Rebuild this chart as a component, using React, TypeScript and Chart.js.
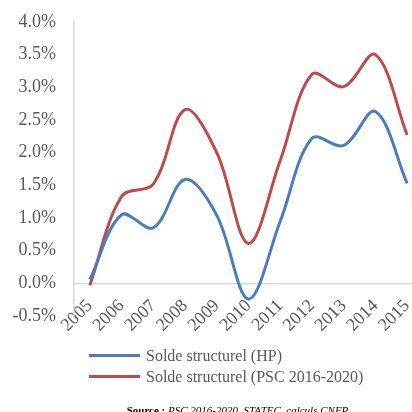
import React, { useEffect, useRef } from "react";
import { Chart, registerables } from "chart.js";

Chart.register(...registerables);

const years = ["2005", "2006", "2007", "2008", "2009", "2010", "2011", "2012", "2013", "2014", "2015"];
const soldeHP = [0.06, 1.05, 0.85, 1.59, 1.04, -0.24, 0.95, 2.22, 2.11, 2.63, 1.53];
const soldePSC = [-0.03, 1.33, 1.52, 2.66, 2.0, 0.61, 1.88, 3.2, 3.01, 3.5, 2.27];
const seriesNames = ["Solde structurel (HP)", "Solde structurel (PSC 2016-2020)"];
const sourceBold = "Source :";
const sourceItalic = "PSC 2016-2020, STATEC, calculs CNFP";

const BLUE = "#4a7ebb";
const RED = "#be4b48";
const SERIF = "'Liberation Serif', 'Times New Roman', serif";

export default function App() {
  const ref = useRef<HTMLCanvasElement | null>(null);

  useEffect(() => {
    if (!ref.current) return;
    const chart = new Chart(ref.current, {
      type: "line",
      data: {
        labels: years,
        datasets: [
          {
            label: seriesNames[0],
            data: soldeHP,
            borderColor: BLUE,
            backgroundColor: BLUE,
            borderWidth: 3,
            pointRadius: 0,
            tension: 0.35,
            fill: false,
          },
          {
            label: seriesNames[1],
            data: soldePSC,
            borderColor: RED,
            backgroundColor: RED,
            borderWidth: 3,
            pointRadius: 0,
            tension: 0.35,
            fill: false,
          },
        ],
      },
      options: {
        responsive: false,
        animation: false,
        layout: { padding: { top: 22, bottom: 96, left: 0, right: 0 } },
        plugins: { legend: { display: false }, tooltip: { enabled: false } },
        scales: {
          x: {
            type: "category",
            offset: true,
            position: { y: 0 } as any,
            grid: { display: false, drawTicks: false },
            border: { display: true, color: "#d9d9d9", width: 1.5 },
            ticks: {
              autoSkip: false,
              minRotation: 45,
              maxRotation: 45,
              padding: 12,
              color: "#595959",
              font: { family: SERIF, size: 18 },
            },
            afterFit: (s: any) => {
              s.paddingLeft = 0;
              s.paddingRight = 0;
            },
          },
          y: {
            min: -0.5,
            max: 4,
            grid: { display: false, drawTicks: false },
            border: { display: true, color: "#d9d9d9", width: 1.5 },
            ticks: {
              stepSize: 0.5,
              padding: 18,
              color: "#595959",
              font: { family: SERIF, size: 18 },
              callback: (v: any) => Number(v).toFixed(1) + "%",
            },
            afterFit: (s: any) => {
              s.width = 74;
              s.paddingTop = 0;
              s.paddingBottom = 0;
            },
          },
        },
      },
    });
    return () => chart.destroy();
  }, []);

  const legendText: React.CSSProperties = {
    position: "absolute",
    left: 146,
    height: 20,
    lineHeight: "20px",
    fontFamily: SERIF,
    fontSize: 16,
    color: "#595959",
    whiteSpace: "nowrap",
  };

  return (
    <div
      style={{
        position: "fixed",
        left: 0,
        top: 0,
        width: 412,
        height: 412,
        overflow: "hidden",
        background: "#ffffff",
      }}
    >
      <canvas ref={ref} width={423} height={412} style={{ width: 423, height: 412, display: "block" }} />
      <div style={{ position: "absolute", left: 89, top: 354.2, width: 51, height: 3, background: BLUE }} />
      <div style={{ ...legendText, top: 345.7 }}>{seriesNames[0]}</div>
      <div style={{ position: "absolute", left: 89, top: 375.2, width: 51, height: 3, background: RED }} />
      <div style={{ ...legendText, top: 366.7 }}>{seriesNames[1]}</div>
      <div
        style={{
          position: "absolute",
          left: 126.7,
          top: 404.8,
          height: 11,
          lineHeight: "11px",
          fontFamily: SERIF,
          fontSize: 11,
          color: "#000000",
          whiteSpace: "nowrap",
        }}
      >
        <b>{sourceBold}</b> <i>{sourceItalic}</i>
      </div>
    </div>
  );
}
